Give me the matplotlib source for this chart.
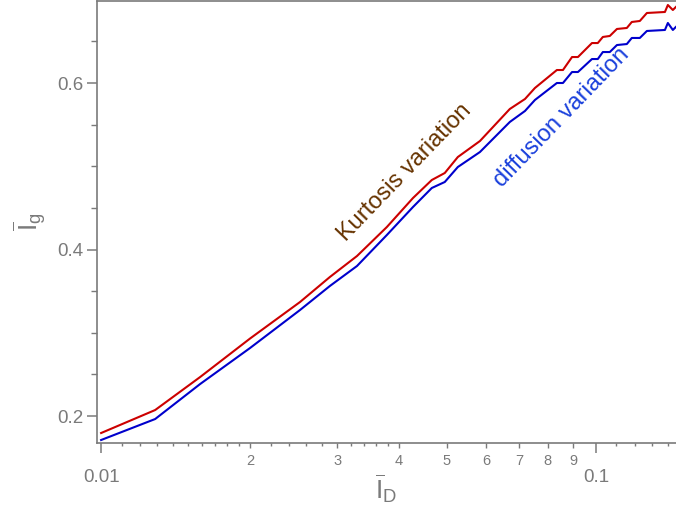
import matplotlib
matplotlib.use("Agg")
import matplotlib.pyplot as plt
from matplotlib.ticker import FixedLocator, FixedFormatter, NullFormatter, NullLocator

### values (mean I_D on x, mean I_g on y)
i_d = [0.0100, 0.01286, 0.01585, 0.0200, 0.02523, 0.0290, 0.0329, 0.0378, 0.0427,
       0.0466, 0.0495, 0.0526, 0.0583, 0.0670, 0.0719, 0.0753, 0.0834, 0.0858,
       0.0895, 0.0920, 0.0982, 0.1009, 0.1033, 0.1067, 0.1103, 0.1155, 0.1182,
       0.1227, 0.1268, 0.1379, 0.1398, 0.1431, 0.1451]
kurtosis = [0.1796, 0.2072, 0.2468, 0.2931, 0.3369, 0.3670, 0.3922, 0.4270, 0.4619,
            0.4835, 0.4919, 0.5111, 0.5303, 0.5688, 0.5808, 0.5940, 0.6156, 0.6156,
            0.6312, 0.6312, 0.6480, 0.6480, 0.6553, 0.6565, 0.6649, 0.6661, 0.6733,
            0.6745, 0.6841, 0.6853, 0.6937, 0.6877, 0.6913]
diffusion = [0.1712, 0.1964, 0.2384, 0.2817, 0.3273, 0.3562, 0.3802, 0.4174, 0.4511,
             0.4739, 0.4811, 0.4991, 0.5171, 0.5532, 0.5664, 0.5796, 0.6000, 0.6000,
             0.6132, 0.6132, 0.6288, 0.6288, 0.6372, 0.6372, 0.6456, 0.6468, 0.6541,
             0.6541, 0.6625, 0.6637, 0.6721, 0.6637, 0.6673]

x_major = [0.01, 0.1]
x_major_labels = ["0.01", "0.1"]
x_mid = [0.02, 0.03, 0.04, 0.05, 0.06, 0.07, 0.08, 0.09]
x_mid_labels = ["2", "3", "4", "5", "6", "7", "8", "9"]
x_small = [0.011, 0.012, 0.013, 0.014, 0.015, 0.016, 0.017, 0.018, 0.019,
           0.022, 0.024, 0.026, 0.028, 0.032, 0.034, 0.036, 0.038,
           0.11, 0.12, 0.13, 0.14]
y_major = [0.2, 0.4, 0.6]
y_minor = [0.25, 0.3, 0.35, 0.45, 0.5, 0.55, 0.65]

gray = "#7a7a7a"
plt.rcParams["font.family"] = ["Liberation Sans", "DejaVu Sans"]
plt.rcParams["mathtext.fontset"] = "custom"
plt.rcParams["mathtext.rm"] = "Liberation Sans"
plt.rcParams["mathtext.it"] = "Liberation Sans"

fig = plt.figure(figsize=(6.76, 5.07), dpi=100)
ax = fig.add_axes([97 / 676, 64 / 507, 579 / 676, 442 / 507])

ax.plot(i_d, kurtosis, color="#cc0000", lw=1.5)
ax.plot(i_d, diffusion, color="#0000cc", lw=1.5)

ax.set_xscale("log")
ax.set_xlim(0.00981, 0.1452)
ax.set_ylim(0.1676, 0.6985)

ax.text(0.0411, 0.493, "Kurtosis variation", color="#663300", fontsize=17,
        rotation=46, rotation_mode="anchor", ha="center", va="center")
ax.text(0.0854, 0.558, "diffusion variation", color="#1a40dc", fontsize=17,
        rotation=46, rotation_mode="anchor", ha="center", va="center")

### frame
for s in ["left", "bottom", "top"]:
    ax.spines[s].set_color(gray)
    ax.spines[s].set_linewidth(1.2)
ax.spines["right"].set_visible(False)

### x ticks: long labelled decades, medium 2..9, tiny unlabelled
ax.xaxis.set_major_locator(FixedLocator(x_major))
ax.xaxis.set_major_formatter(FixedFormatter(x_major_labels))
ax.xaxis.set_minor_locator(FixedLocator(x_mid))
ax.xaxis.set_minor_formatter(FixedFormatter(x_mid_labels))
ax.tick_params(axis="x", which="major", length=7, width=1.1, color=gray,
               labelcolor=gray, labelsize=13.5, pad=12)
ax.tick_params(axis="x", which="minor", length=3.8, width=1.0, color=gray,
               labelcolor=gray, labelsize=10.5, pad=4)

sec = ax.secondary_xaxis("bottom")
sec.xaxis.set_major_locator(FixedLocator(x_small))
sec.xaxis.set_major_formatter(NullFormatter())
sec.xaxis.set_minor_locator(NullLocator())
sec.spines["bottom"].set_visible(False)
sec.tick_params(axis="x", which="major", length=2.2, width=1.0, color=gray)

### y ticks
ax.yaxis.set_major_locator(FixedLocator(y_major))
ax.yaxis.set_minor_locator(FixedLocator(y_minor))
ax.tick_params(axis="y", which="major", length=7, width=1.1, color=gray,
               labelcolor=gray, labelsize=13.5, pad=3)
ax.tick_params(axis="y", which="minor", length=4, width=1.0, color=gray)

ax.set_xlabel(r"$\overline{\mathrm{I}}_{\mathrm{D}}$", color=gray, fontsize=19, labelpad=-10)
ax.set_ylabel(r"$\overline{\mathrm{I}}_{\mathrm{g}}$", color=gray, fontsize=19, labelpad=6)

fig.savefig("out.png", dpi=100)
